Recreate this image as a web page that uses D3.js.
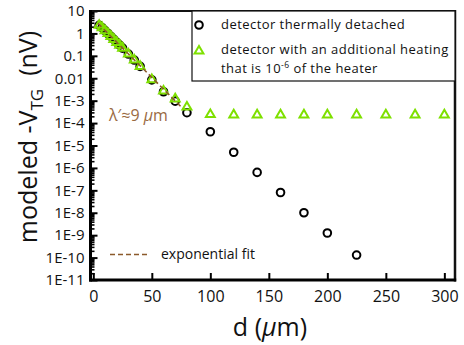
<!DOCTYPE html>
<html>
<head>
<meta charset="utf-8">
<script src="https://cdn.jsdelivr.net/npm/d3@7"></script>
<style>
  html, body { margin: 0; padding: 0; background: #fff; }
  svg { display: block; }
  text { font-family: "Open Sans", "Noto Sans", sans-serif; fill: #111; }
</style>
</head>
<body>
<svg id="chart" width="464" height="345"></svg>
<script>
// ---- data ----
const circleD = [5, 7.5, 10, 12.5, 15, 17.5, 20, 22.5, 25, 30, 35, 40, 50, 60, 70, 80, 100, 120, 140, 160, 180, 200, 225];
const circleV = [2.3, 1.8, 1.33, 0.99, 0.73, 0.54, 0.40, 0.30, 0.22, 0.12, 0.065, 0.034, 0.0085, 0.0025, 9.5e-4, 2.9e-4, 4.1e-5, 5.0e-6, 6.3e-7, 8.0e-8, 1.0e-8, 1.25e-9, 1.3e-10];
const triD = [5, 7.5, 10, 12.5, 15, 17.5, 20, 22.5, 25, 30, 35, 40, 50, 60, 70, 80, 100, 120, 140, 160, 180, 200, 225, 250, 275, 300];
const triV = [2.3, 1.8, 1.33, 0.99, 0.73, 0.54, 0.40, 0.30, 0.22, 0.12, 0.065, 0.034, 0.0087, 0.0027, 1.2e-3, 5.2e-4, 2.4e-4, 2.3e-4, 2.3e-4, 2.3e-4, 2.3e-4, 2.3e-4, 2.3e-4, 2.3e-4, 2.3e-4, 2.3e-4];
const fitD = [4, 76];
const fitV = [2.8, 4.7e-4];
const xTicks = [0, 50, 100, 150, 200, 250, 300];
const yTickVals = [10, 1, 0.1, 0.01, 1e-3, 1e-4, 1e-5, 1e-6, 1e-7, 1e-8, 1e-9, 1e-10, 1e-11];
const yTickLabels = ["10", "1", "0.1", "0.01", "1E-3", "1E-4", "1E-5", "1E-6", "1E-7", "1E-8", "1E-9", "1E-10", "1E-11"];
const seriesNames = ["detector thermally detached", "detector with an additional heating", "that is 10", "-6", " of the heater"];
const fitName = "exponential fit";

// ---- layout ----
const L = 90.5, R = 455, T = 11, B = 280;
const svg = d3.select("#chart");
const x = d3.scaleLinear().domain([-2.4, 309.1]).range([L, R]);
const y = d3.scaleLog().domain([1e-11, 10]).range([B, T]);

const GREEN = "#7ee000";
const BROWN = "#8b5a2b";

// minor y ticks
const minor = [];
for (let e = -11; e < 1; e++) for (let k = 2; k <= 9; k++) minor.push(k * Math.pow(10, e));
const gMinor = svg.append("g").attr("transform", `translate(${L},0)`)
  .call(d3.axisLeft(y).tickValues(minor).tickSize(-4).tickFormat(""));
gMinor.select(".domain").remove();
gMinor.selectAll("line").attr("stroke", "#000").attr("stroke-width", 1.6);

const gY = svg.append("g").attr("transform", `translate(${L},0)`)
  .call(d3.axisLeft(y).tickValues(yTickVals).tickSize(-7).tickPadding(6)
    .tickFormat((d, i) => yTickLabels[i]));
gY.select(".domain").remove();
gY.selectAll("line").attr("stroke", "#000").attr("stroke-width", 2);
gY.selectAll("text").attr("font-size", 15).attr("font-family", "Open Sans").attr("fill", "#111");

const gX = svg.append("g").attr("transform", `translate(0,${B})`)
  .call(d3.axisBottom(x).tickValues(xTicks).tickSize(-7).tickPadding(11));
gX.select(".domain").remove();
gX.selectAll("line").attr("stroke", "#000").attr("stroke-width", 2);
gX.selectAll("text").attr("font-size", 16).attr("font-family", "Open Sans").attr("fill", "#111");

// frame
svg.append("line").attr("x1", L).attr("x2", R).attr("y1", T).attr("y2", T).attr("stroke", "#111").attr("stroke-width", 2);
svg.append("line").attr("x1", R).attr("x2", R).attr("y1", T - 1).attr("y2", B + 1.5).attr("stroke", "#111").attr("stroke-width", 2.5);
svg.append("line").attr("x1", L).attr("x2", L).attr("y1", T - 1).attr("y2", B + 1.5).attr("stroke", "#000").attr("stroke-width", 3);
svg.append("line").attr("x1", L - 1.5).attr("x2", R + 1.2).attr("y1", B).attr("y2", B).attr("stroke", "#000").attr("stroke-width", 3);

// data: circles
svg.append("g").selectAll("circle").data(circleD).join("circle")
  .attr("cx", d => x(d)).attr("cy", (d, i) => y(circleV[i]))
  .attr("r", 3.8).attr("fill", "none").attr("stroke", "#000").attr("stroke-width", 2);

// triangles
const tri = d3.symbol().type(d3.symbolTriangle).size(34);
svg.append("g").selectAll("path").data(triD).join("path")
  .attr("d", tri)
  .attr("transform", (d, i) => `translate(${x(d)},${y(triV[i])})`)
  .attr("fill", "none").attr("stroke", GREEN).attr("stroke-width", 2);

// fit line
svg.append("path")
  .attr("d", d3.line().x(d => x(d)).y((d, i) => y(fitV[i]))(fitD))
  .attr("fill", "none").attr("stroke", BROWN).attr("stroke-width", 1.6)
  .attr("stroke-dasharray", "5,3");

// legend box
svg.append("rect").attr("x", 192).attr("y", T).attr("width", R - 192).attr("height", 70)
  .attr("fill", "#fff").attr("stroke", "#111").attr("stroke-width", 1.2);
svg.append("circle").attr("cx", 199).attr("cy", 25).attr("r", 3.8)
  .attr("fill", "none").attr("stroke", "#000").attr("stroke-width", 2);
svg.append("path").attr("d", tri).attr("transform", "translate(199,51)")
  .attr("fill", "none").attr("stroke", GREEN).attr("stroke-width", 2);
const LFS = 13;
svg.append("text").attr("x", 221).attr("y", 29).attr("font-size", LFS).attr("letter-spacing", 0.45).text(seriesNames[0]);
svg.append("text").attr("x", 221).attr("y", 54).attr("font-size", LFS).attr("letter-spacing", 0.45).text(seriesNames[1]);
const t3 = svg.append("text").attr("x", 221).attr("y", 72.5).attr("font-size", LFS).attr("letter-spacing", 0.45);
t3.append("tspan").text(seriesNames[2]);
t3.append("tspan").attr("font-size", 8.5).attr("dy", -5).text(seriesNames[3]);
t3.append("tspan").attr("dy", 5).text(seriesNames[4]);

// lambda annotation
const lam = svg.append("text").attr("x", 109).attr("y", 121).attr("font-size", 16).style("fill", "#9a6a42");
lam.append("tspan").text("λ′≈9 ");
lam.append("tspan").attr("font-style", "italic").text("μ");
lam.append("tspan").text("m");

// fit legend
svg.append("line").attr("x1", 110).attr("x2", 147).attr("y1", 254.5).attr("y2", 254.5)
  .attr("stroke", BROWN).attr("stroke-width", 1.6).attr("stroke-dasharray", "5,3");
svg.append("text").attr("x", 161).attr("y", 259).attr("font-size", 14).text(fitName);

// axis titles
const xl = svg.append("text").attr("x", 270).attr("y", 336).attr("text-anchor", "middle").attr("font-size", 25);
xl.append("tspan").text("d (");
xl.append("tspan").attr("font-style", "italic").text("μ");
xl.append("tspan").text("m)");

const yl = svg.append("text").attr("transform", "translate(37,137) rotate(-90)")
  .attr("text-anchor", "middle").attr("font-size", 25);
yl.append("tspan").text("modeled -V");
yl.append("tspan").attr("font-size", 17).attr("dy", 6).text("TG");
yl.append("tspan").attr("dy", -6).text("\u00a0 (nV)");
</script>
</body>
</html>
